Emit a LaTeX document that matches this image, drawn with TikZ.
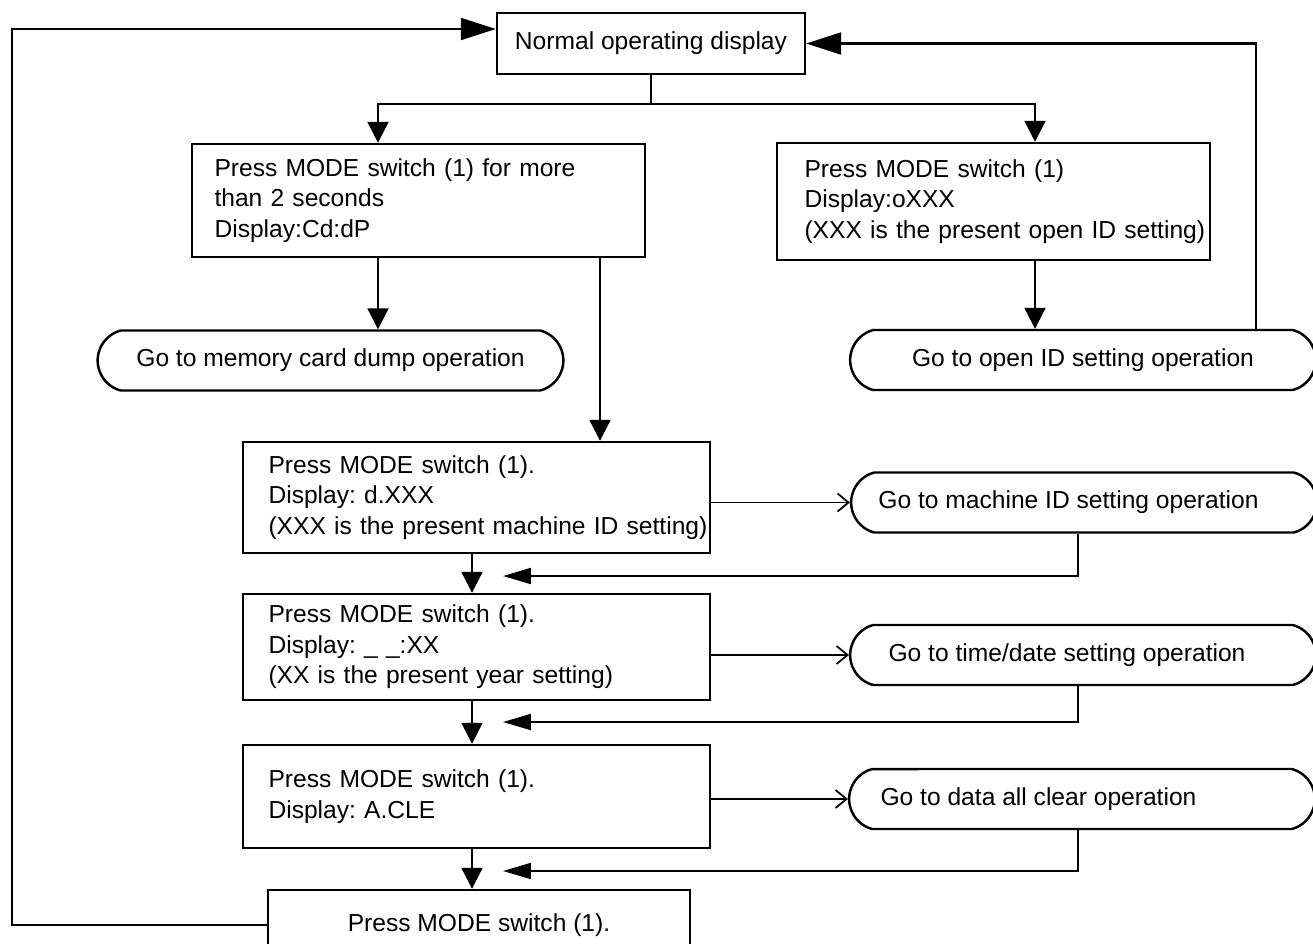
\documentclass[tikz,border=0pt]{standalone}
\usepackage{fontspec}
\setmainfont{Liberation Sans}
\usepackage{tikz}
\usetikzlibrary{arrows.meta, shapes.misc}
\newcommand{\mainsize}{\fontsize{14}{17.4}\selectfont\frenchspacing}

\begin{document}
\begin{tikzpicture}[x=0.02cm, y=-0.02cm,
  box/.style={rectangle, draw, line width=1.4pt, align=left, inner xsep=0.05cm, inner ysep=0pt, font=\mainsize,
    execute at begin node={\hyphenpenalty=10000\leftskip=#1\rightskip=0pt plus 1fil minus 0.5cm}},
  box/.default=0.44cm,
  term/.style={rounded rectangle, rounded rectangle arc length=150, draw, line width=1.4pt, minimum width=9.55cm, minimum height=1.2cm, inner ysep=0pt, font=\mainsize},
  line/.style={line width=1.2pt},
  arrow/.style={line, -{Triangle[length=0.42cm, width=0.42cm]}},
  bigarrow/.style={line, -{Triangle[length=0.7cm, width=0.44cm]}},
  backarrow/.style={line, -{Triangle[length=0.56cm, width=0.32cm]}},
  thinarrow/.style={line width=1pt, -{Straight Barb[length=0.22cm, width=0.36cm]}}
]
  \useasboundingbox (0,0) rectangle (1313,944);
  \clip (0,0) rectangle (1313,944);

  % boxes
  \node[box, align=center, inner xsep=0pt, minimum width=6.16cm, minimum height=1.22cm] (normal) at (651,43.5) {Normal operating display};
  \node[box=0.4cm, text width=8.96cm, minimum height=2.26cm] (holdbox) at (418.5,200.5) {Press MODE switch (1) for more\\than 2 seconds\\Display:Cd:dP};
  \node[box=0.5cm, text width=8.56cm, minimum height=2.34cm] (openbox) at (993.5,201.5) {Press MODE switch (1)\\Display:oXXX\\(XXX is the present open ID setting)};
  \node[term] (dumpop) at (330.5,360.5) {Go to memory card dump operation};
  \node[term] (openop) at (1083,360) {Go to open ID setting operation};
  \node[box=0.46cm, text width=9.24cm, minimum height=2.22cm] (machinebox) at (476.5,497.5) {Press MODE switch (1).\\Display: d.XXX\\(XXX is the present machine ID setting)};
  \node[term] (machineop) at (1084,502.5) {Go to machine ID setting operation\hspace*{0.62cm}};
  \node[box=0.46cm, text width=9.24cm, minimum height=2.12cm] (yearbox) at (476.5,647) {Press MODE switch (1).\\Display: \_ \_:XX\\(XX is the present year setting)};
  \node[term] (dateop) at (1083,655) {Go to time/date setting operation\hspace*{0.64cm}};
  \node[box=0.46cm, text width=9.24cm, minimum height=2.06cm] (clearbox) at (476.5,796.5) {Press MODE switch (1).\\Display: A.CLE};
  \node[term] (clearop) at (1082,799) {Go to data all clear operation\hspace*{1.74cm}};
  \node[box, align=center, inner xsep=0pt, minimum width=8.44cm, minimum height=1.4cm] (lastbox) at (479,925) {Press MODE switch (1).};

  % columns and turning points
  \coordinate (split) at (651,104);
  \coordinate (colA) at (378,0);
  \coordinate (colB) at (1035,0);
  \coordinate (colC) at (600,0);
  \coordinate (colD) at (472,0);
  \coordinate (colE) at (1078,0);
  \coordinate (colL) at (12,0);
  \coordinate (colR) at (1256,0);
  \coordinate (ret1) at (503,576);
  \coordinate (ret2) at (503,722);
  \coordinate (ret3) at (503,871);

  % top branch
  \draw[line] (normal.south) -- (split);
  \draw[arrow] (split) -| (colA |- holdbox.north);
  \draw[arrow] (split) -| (colB |- openbox.north);
  \draw[arrow] (colA |- holdbox.south) -- (colA |- dumpop.north);
  \draw[arrow] (colC |- holdbox.south) -- (colC |- machinebox.north);
  \draw[arrow] (colB |- openbox.south) -- (colB |- openop.north);
  \draw[bigarrow] (colR |- openop.north) |- (normal.east);

  % setting chain
  \draw[thinarrow] (machinebox.east |- machineop.west) -- (machineop.west);
  \draw[thinarrow] (yearbox.east |- dateop.west) -- (dateop.west);
  \draw[thinarrow] (clearbox.east |- clearop.west) -- (clearop.west);
  \draw[backarrow] (colE |- machineop.south) |- (ret1);
  \draw[backarrow] (colE |- dateop.south) |- (ret2);
  \draw[backarrow] (colE |- clearop.south) |- (ret3);
  \draw[arrow] (colD |- machinebox.south) -- (colD |- yearbox.north);
  \draw[arrow] (colD |- yearbox.south) -- (colD |- clearbox.north);
  \draw[arrow] (colD |- clearbox.south) -- (colD |- lastbox.north);

  % loop back to the top
  \draw[bigarrow] (lastbox.west) -- (colL |- lastbox.west) |- ([yshift=0.29cm]normal.west);
\end{tikzpicture}
\end{document}
